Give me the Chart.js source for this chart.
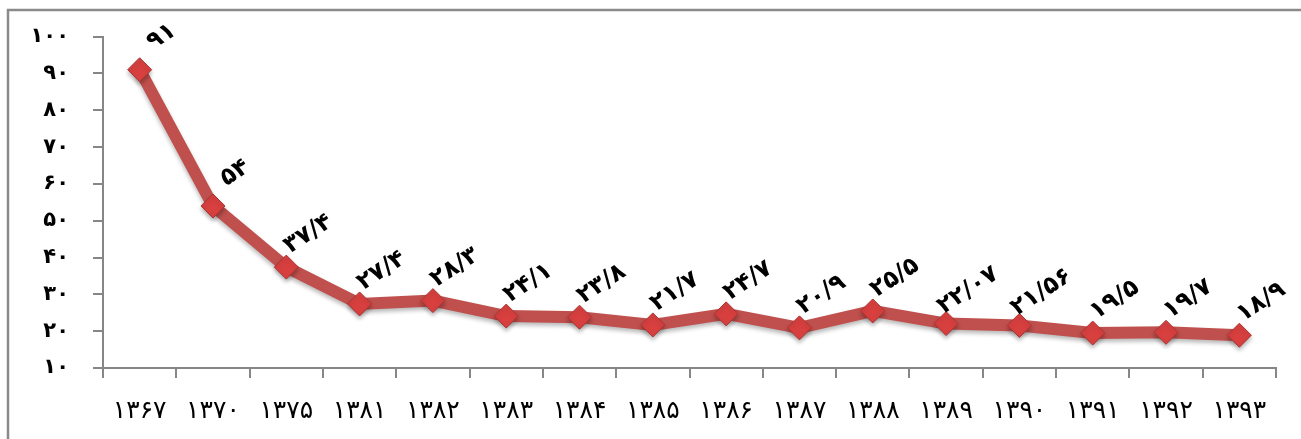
<!DOCTYPE html>
<html lang="fa">
<head>
  <meta charset="UTF-8" />
  <title>Chart</title>
  <script src="https://cdn.jsdelivr.net/npm/chart.js"></script>
  <style>
    html, body { margin: 0; padding: 0; background: #fff; }
    #wrap { width: 1301px; height: 439px; }
  </style>
</head>
<body>
  <div id="wrap"><canvas id="lineChart" width="1301" height="439"></canvas></div>

  <script>
    // years (solar hijri) and values
    const years = ['1367', '1370', '1375', '1381', '1382', '1383', '1384', '1385',
                   '1386', '1387', '1388', '1389', '1390', '1391', '1392', '1393'];
    const values = [91, 54, 37.4, 27.4, 28.3, 24.1, 23.8, 21.7,
                    24.7, 20.9, 25.5, 22.07, 21.56, 19.5, 19.7, 18.9];
    const yTicks = [10, 20, 30, 40, 50, 60, 70, 80, 90, 100];

    const FONT = "'DejaVu Sans', sans-serif";

    // latin digits -> persian digits, '.' -> '/'
    function toFa(v) {
      return String(v).replace(/\./g, '/').replace(/[0-9]/g, d => '۰۱۲۳۴۵۶۷۸۹'[d]);
    }

    // grey frame round the chart (only left and top edges are visible)
    const framePlugin = {
      id: 'frame',
      beforeDraw(chart) {
        const c = chart.ctx;
        c.save();
        c.strokeStyle = '#8a8a8a';
        c.lineWidth = 2.5;
        c.beginPath();
        c.moveTo(8, chart.height + 2);
        c.lineTo(8, 10);
        c.lineTo(chart.width + 2, 10);
        c.stroke();
        c.restore();
      }
    };

    // soft shadow under the line and markers
    const shadowPlugin = {
      id: 'shadow',
      beforeDatasetsDraw(chart) {
        const c = chart.ctx;
        c.save();
        c.shadowColor = 'rgba(0,0,0,0.28)';
        c.shadowBlur = 4;
        c.shadowOffsetY = 3;
      },
      afterDatasetsDraw(chart) {
        chart.ctx.restore();
      }
    };

    // rotated value labels next to each point
    const valueLabels = {
      id: 'valueLabels',
      afterDatasetsDraw(chart) {
        const c = chart.ctx;
        const meta = chart.getDatasetMeta(0);
        c.save();
        c.fillStyle = '#000';
        c.font = 'bold 24px ' + FONT;
        c.textAlign = 'center';
        c.textBaseline = 'middle';
        c.direction = 'ltr';
        meta.data.forEach((pt, i) => {
          c.save();
          c.translate(pt.x + 22, pt.y - 33);
          c.rotate(-0.58);
          c.fillText(toFa(values[i]), 0, 0);
          c.restore();
        });
        c.restore();
      }
    };

    new Chart(document.getElementById('lineChart'), {
      type: 'line',
      data: {
        labels: years,
        datasets: [{
          data: values,
          borderColor: '#C0504D',
          borderWidth: 12,
          tension: 0,
          pointStyle: 'rectRot',
          pointRadius: 12,
          pointHoverRadius: 12,
          pointBackgroundColor: '#D8403F',
          pointBorderColor: '#A93533',
          pointBorderWidth: 1
        }]
      },
      options: {
        responsive: false,
        animation: false,
        layout: { padding: { top: 33, right: 25, left: 0, bottom: 0 } },
        plugins: {
          legend: { display: false },
          tooltip: { enabled: false }
        },
        scales: {
          x: {
            offset: true,
            grid: { offset: true, drawOnChartArea: false, drawTicks: true, tickLength: 10, color: '#868686', lineWidth: 2 },
            border: { color: '#868686', width: 2 },
            ticks: {
              color: '#000',
              padding: 18,
              maxRotation: 0,
              font: { family: FONT, size: 25 },
              callback: function (v) { return toFa(this.getLabelForValue(v)); }
            },
            afterFit(s) { s.height = 71; }
          },
          y: {
            min: 10,
            max: 100,
            afterBuildTicks(s) { s.ticks = yTicks.map(v => ({ value: v })); },
            grid: { drawOnChartArea: false, drawTicks: true, tickLength: 10, color: '#868686', lineWidth: 2 },
            border: { color: '#868686', width: 2 },
            ticks: {
              color: '#000',
              padding: 24,
              font: { family: FONT, size: 21, weight: 'bold' },
              callback: v => toFa(v)
            },
            afterFit(s) { s.width = 103; }
          }
        }
      },
      plugins: [framePlugin, shadowPlugin, valueLabels]
    });
  </script>
</body>
</html>
